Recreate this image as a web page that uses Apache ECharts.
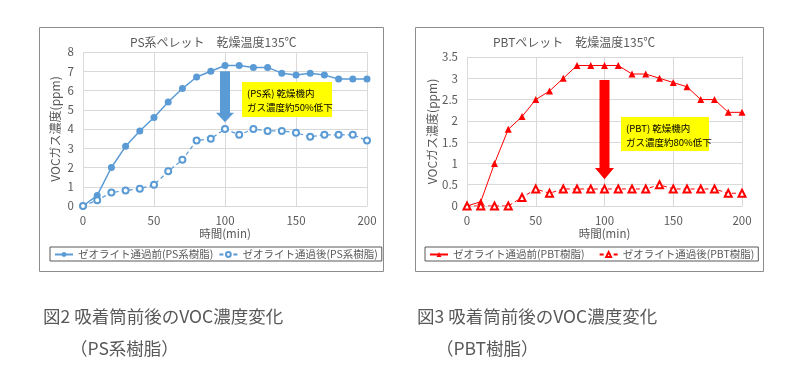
<!DOCTYPE html>
<html><head><meta charset="utf-8">
<script src="https://cdn.jsdelivr.net/npm/echarts@6/dist/echarts.min.js"></script>
<style>html,body{margin:0;padding:0;background:#fff}#c{width:810px;height:380px}</style>
</head><body><div id="c"></div>
<script>
const times = [0,10,20,30,40,50,60,70,80,90,100,110,120,130,140,150,160,170,180,190,200];
const psBefore = [0,0.55,2.0,3.1,3.9,4.6,5.4,6.1,6.7,7.0,7.3,7.3,7.2,7.2,6.9,6.8,6.9,6.8,6.6,6.6,6.6];
const psAfter  = [0,0.3,0.7,0.8,0.9,1.1,1.8,2.4,3.4,3.5,4.0,3.7,4.0,3.9,3.9,3.8,3.6,3.7,3.7,3.7,3.4];
const pbtBefore = [0,0.1,1.0,1.8,2.1,2.5,2.7,3.0,3.3,3.3,3.3,3.3,3.1,3.1,3.0,2.9,2.8,2.5,2.5,2.2,2.2];
const pbtAfter  = [0,0,0,0,0.2,0.4,0.3,0.4,0.4,0.4,0.4,0.4,0.4,0.4,0.5,0.4,0.4,0.4,0.4,0.3,0.3];
const seriesNames = ['ゼオライト通過前(PS系樹脂)','ゼオライト通過後(PS系樹脂)','ゼオライト通過前(PBT樹脂)','ゼオライト通過後(PBT樹脂)'];
const titles = ['PS系ペレット　乾燥温度135℃','PBTペレット　乾燥温度135℃'];
const xName = '時間(min)';
const yName = 'VOCガス濃度(ppm)';
const notes = [['(PS系) 乾燥機内','ガス濃度約50%低下'],['(PBT) 乾燥機内','ガス濃度約80%低下']];
const captions = [['図2 吸着筒前後のVOC濃度変化','（PS系樹脂）'],['図3 吸着筒前後のVOC濃度変化','（PBT樹脂）']];

const FONT = '"Noto Sans CJK JP", "Noto Sans", sans-serif';
const TXT = '#595959';
const BLUE = '#5B9BD5';
const RED = '#FF0000';
const pair = (xs, ys) => xs.map((x,i)=>[x, ys[i]]);

const chart = echarts.init(document.getElementById('c'), null, {renderer:'canvas'});

function xAxis(gi){
  return {type:'value', gridIndex:gi, min:0, max:200, interval:50,
    name:xName, nameLocation:'middle', nameGap:19,
    nameTextStyle:{color:TXT, fontSize:11.5, fontFamily:FONT},
    axisLine:{show:true, lineStyle:{color:'#D9D9D9'}}, axisTick:{show:false},
    axisLabel:{color:TXT, fontSize:11.5, fontFamily:FONT, margin:9},
    splitLine:{show:true, lineStyle:{color:'#D9D9D9'}}};
}
function yAxis(gi, max, interval, gap){
  return {type:'value', gridIndex:gi, min:0, max:max, interval:interval,
    name:yName, nameLocation:'middle', nameGap:gap, nameRotate:90,
    nameTextStyle:{color:TXT, fontSize:12, fontFamily:FONT},
    axisLine:{show:false}, axisTick:{show:false},
    axisLabel:{color:TXT, fontSize:11.5, fontFamily:FONT, margin:9},
    splitLine:{show:true, lineStyle:{color:'#D9D9D9'}}};
}
function legend(names, left, top, gap){
  return {data:names, left:left, top:top, orient:'horizontal', padding:[1,4,0,4],
    borderColor:'#595959', borderWidth:1, itemGap:gap, itemWidth:18, itemHeight:6,
    textStyle:{color:TXT, fontSize:10.5, fontFamily:FONT, lineHeight:13}};
}

chart.setOption({
  animation:false,
  title:[
    {text:titles[0], left:125, top:31, textStyle:{color:TXT, fontSize:12, fontWeight:'normal', fontFamily:FONT}},
    {text:titles[1], left:488, top:31, textStyle:{color:TXT, fontSize:12, fontWeight:'normal', fontFamily:FONT}}
  ],
  grid:[
    {left:83, right:810-367, top:52, bottom:380-206},
    {left:467, right:810-742, top:57, bottom:380-206}
  ],
  xAxis:[xAxis(0), xAxis(1)],
  yAxis:[yAxis(0, 8, 1, 22), yAxis(1, 3.5, 0.5, 29)],
  legend:[legend(seriesNames.slice(0,2), 50, 247, 5), legend(seriesNames.slice(2,4), 425, 247, 14)],
  series:[
    {name:seriesNames[0], type:'line', xAxisIndex:0, yAxisIndex:0, data:pair(times, psBefore),
      symbol:'circle', symbolSize:7, lineStyle:{color:BLUE, width:1.5}, itemStyle:{color:BLUE}},
    {name:seriesNames[1], type:'line', xAxisIndex:0, yAxisIndex:0, data:pair(times, psAfter),
      symbol:'emptyCircle', symbolSize:6, lineStyle:{color:BLUE, width:1.2, type:[4,3]}, itemStyle:{color:BLUE, borderWidth:1}},
    {name:seriesNames[2], type:'line', xAxisIndex:1, yAxisIndex:1, data:pair(times, pbtBefore),
      symbol:'triangle', symbolSize:7, lineStyle:{color:RED, width:1}, itemStyle:{color:RED}},
    {name:seriesNames[3], type:'line', xAxisIndex:1, yAxisIndex:1, data:pair(times, pbtAfter),
      symbol:'emptyTriangle', symbolSize:7, lineStyle:{color:RED, width:1, type:[4,3]}, itemStyle:{color:RED, borderWidth:1}}
  ]
});

function px(gi, x, y){ return chart.convertToPixel({gridIndex:gi}, [x, y]); }
function arrow(gi, x, yTop, yHeadStart, yTip, shaftW, headW, color){
  const t = px(gi, x, yTop), h = px(gi, x, yHeadStart), p = px(gi, x, yTip);
  const cx = t[0];
  return {type:'polygon', z:10, shape:{points:[
    [cx-shaftW/2, t[1]],[cx+shaftW/2, t[1]],[cx+shaftW/2, h[1]],[cx+headW/2, h[1]],
    [cx, p[1]],[cx-headW/2, h[1]],[cx-shaftW/2, h[1]]]}, style:{fill:color}};
}
function noteBox(x, y, w, h, lines){
  return [
    {type:'rect', z:9, shape:{x:x, y:y, width:w, height:h}, style:{fill:'#FFFF00'}},
    {type:'text', z:11, x:x+5, y:y+4, style:{text:lines.join('\n'), fill:'#000', fontSize:9.5, lineHeight:14, fontFamily:FONT}}
  ];
}
const capStyle = {fill:TXT, fontSize:17.5, fontFamily:FONT};
chart.setOption({
  graphic:[
    {type:'rect', z:-1, shape:{x:39.5, y:27.5, width:344, height:244}, style:{fill:'none', stroke:'#8C8C8C', lineWidth:1}},
    {type:'rect', z:-1, shape:{x:415.5, y:27.5, width:348, height:244}, style:{fill:'none', stroke:'#8C8C8C', lineWidth:1}},
    arrow(0, 100, 7.0, 4.85, 4.35, 10, 18, BLUE),
    arrow(1, 100, 2.96, 0.89, 0.63, 10, 19, RED),
    ...noteBox(242, 82, 90, 35, notes[0]),
    ...noteBox(621, 117, 88, 34, notes[1]),
    {type:'text', x:43, y:308, style:Object.assign({text:captions[0][0]}, capStyle)},
    {type:'text', x:70, y:340, style:Object.assign({text:captions[0][1]}, capStyle)},
    {type:'text', x:417, y:308, style:Object.assign({text:captions[1][0]}, capStyle)},
    {type:'text', x:436, y:340, style:Object.assign({text:captions[1][1]}, capStyle)}
  ]
});
</script></body></html>
